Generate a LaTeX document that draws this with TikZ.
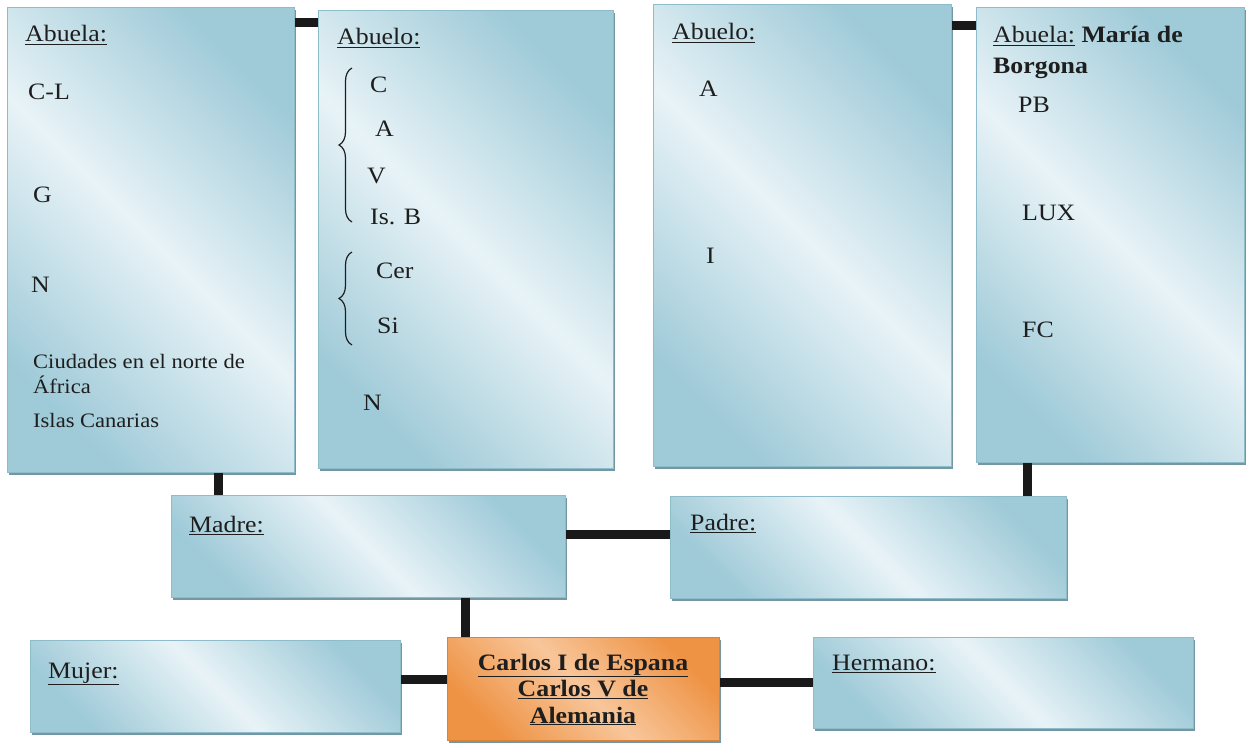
\documentclass[tikz,border=0pt]{standalone}
\usepackage{fontspec}
\setmainfont{Liberation Serif}[FakeStretch=1.1]
\usepackage{tikz}
\usetikzlibrary{decorations.pathreplacing}
\definecolor{boxdark}{HTML}{9FCAD8}
\definecolor{boxlight}{HTML}{E8F3F7}
\definecolor{boxedge}{HTML}{8EBCCB}
\definecolor{boxshadow}{HTML}{7397A3}
\definecolor{orangedark}{HTML}{EE9243}
\definecolor{orangelight}{HTML}{F8C69A}
\definecolor{orangeedge}{HTML}{D9843A}
\definecolor{textgray}{HTML}{1E1E1E}
\tikzset{
	boxnode/.style={
			rectangle,
			anchor=north west,
			inner sep=0pt,
			draw=boxedge,
			line width=0.8pt,
			preaction={fill=boxshadow, transform canvas={xshift=2pt, yshift=-2.5pt}},
			shade,
			shading=axis,
			left color=boxdark,
			right color=boxdark,
			middle color=boxlight,
			shading angle=135
		},
	mainnode/.style={
			boxnode,
			draw=orangeedge,
			left color=orangedark,
			right color=orangedark,
			middle color=orangelight,
			shading angle=135
		},
	textnode/.style={
			anchor=base west,
			inner sep=0pt,
			text=textgray,
			font=\fontsize{23.5}{27}\selectfont
		},
	smalltextnode/.style={
			textnode,
			font=\fontsize{20.5}{24}\selectfont
		},
	boldtextnode/.style={
			textnode,
			anchor=base,
			font=\fontsize{23.5}{27}\selectfont\bfseries
		},
	curly/.style={
			decorate,
			decoration={brace, amplitude=13pt, aspect=0.5},
			line width=1.2pt,
			draw=textgray
		},
	link/.style={
			line width=9pt,
			draw=black!90
		}
}

\begin{document}
\begin{tikzpicture}[x=1pt, y=-1pt]
\useasboundingbox (0,0) rectangle (1248,749);

% grandparents
\node[boxnode, minimum width=287pt, minimum height=465pt] (ab1) at (7,7) {};
\node[boxnode, minimum width=295pt, minimum height=458pt] (ao1) at (318,10) {};
\node[boxnode, minimum width=298pt, minimum height=462pt] (ao2) at (653,4) {};
\node[boxnode, minimum width=268pt, minimum height=455pt] (ab2) at (976,7) {};

% parents
\node[boxnode, minimum width=394pt, minimum height=102pt] (madre) at (171,495) {};
\node[boxnode, minimum width=396pt, minimum height=102pt] (padre) at (670,496) {};

% bottom row
\node[boxnode, minimum width=370pt, minimum height=92pt] (mujer) at (30,640) {};
\node[mainnode, minimum width=272pt, minimum height=103pt] (carlos) at (447,637) {};
\node[boxnode, minimum width=380pt, minimum height=91pt] (hermano) at (813,637) {};

% connectors
\draw[link] (ab1.east |- 0,23) -- (ao1.west |- 0,23);
\draw[link] (ao2.east |- 0,26) -- (ab2.west |- 0,26);
\draw[link] (ab1.south -| 218,0) -- (madre.north -| 218,0);
\draw[link] (ab2.south -| 1027,0) -- (padre.north -| 1027,0);
\draw[link] (madre.east |- 0,534) -- (padre.west |- 0,534);
\draw[link] (madre.south -| 465,0) -- (carlos.north -| 465,0);
\draw[link] (mujer.east |- 0,679) -- (carlos.west |- 0,679);
\draw[link] (carlos.east |- 0,682) -- (hermano.west |- 0,682);

% Abuela (left)
\node[textnode] (t1) at (25,42) {\underline{Abuela:}};
\node[textnode] (t2) at (28,100) {C-L};
\node[textnode] (t3) at (33,203) {G};
\node[textnode] (t4) at (31,292) {N};
\node[smalltextnode] (t5) at (33,368) {Ciudades en el norte de};
\node[smalltextnode] (t6) at (33,393) {África};
\node[smalltextnode] (t7) at (33,427) {Islas Canarias};

% Abuelo (left)
\node[textnode] (t8) at (337,45) {\underline{Abuelo:}};
\node[textnode] (t9) at (370,93) {C};
\node[textnode] (t10) at (375,137) {A};
\node[textnode] (t11) at (367,183) {V};
\node[textnode] (t12) at (370,224) {Is. B};
\node[textnode] (t13) at (376,278) {Cer};
\node[textnode] (t14) at (377,333) {Si};
\node[textnode] (t15) at (363,410) {N};
\draw[curly] (352,222) -- (352,68);
\draw[curly] (352,345) -- (352,252);

% Abuelo (right)
\node[textnode] (t16) at (672,40) {\underline{Abuelo:}};
\node[textnode] (t17) at (699,97) {A};
\node[textnode] (t18) at (706,263) {I};

% Abuela (right)
\node[textnode] (t19) at (993,43) {\underline{Abuela:} \textbf{María de}};
\node[textnode] (t20) at (993,74) {\textbf{Borgona}};
\node[textnode] (t21) at (1018,113) {PB};
\node[textnode] (t22) at (1022,220) {LUX};
\node[textnode] (t23) at (1022,337) {FC};

% parents and bottom row
\node[textnode] (t24) at (189,532) {\underline{Madre:}};
\node[textnode] (t25) at (690,530) {\underline{Padre:}};
\node[textnode] (t26) at (48,678) {\underline{Mujer:}};
\node[textnode] (t27) at (832,670) {\underline{Hermano:}};
\node[boldtextnode] (c1) at (583,670) {\underline{Carlos I de Espana}};
\node[boldtextnode] (c2) at (583,696) {\underline{Carlos V de}};
\node[boldtextnode] (c3) at (583,723) {\underline{Alemania}};

\end{tikzpicture}
\end{document}
